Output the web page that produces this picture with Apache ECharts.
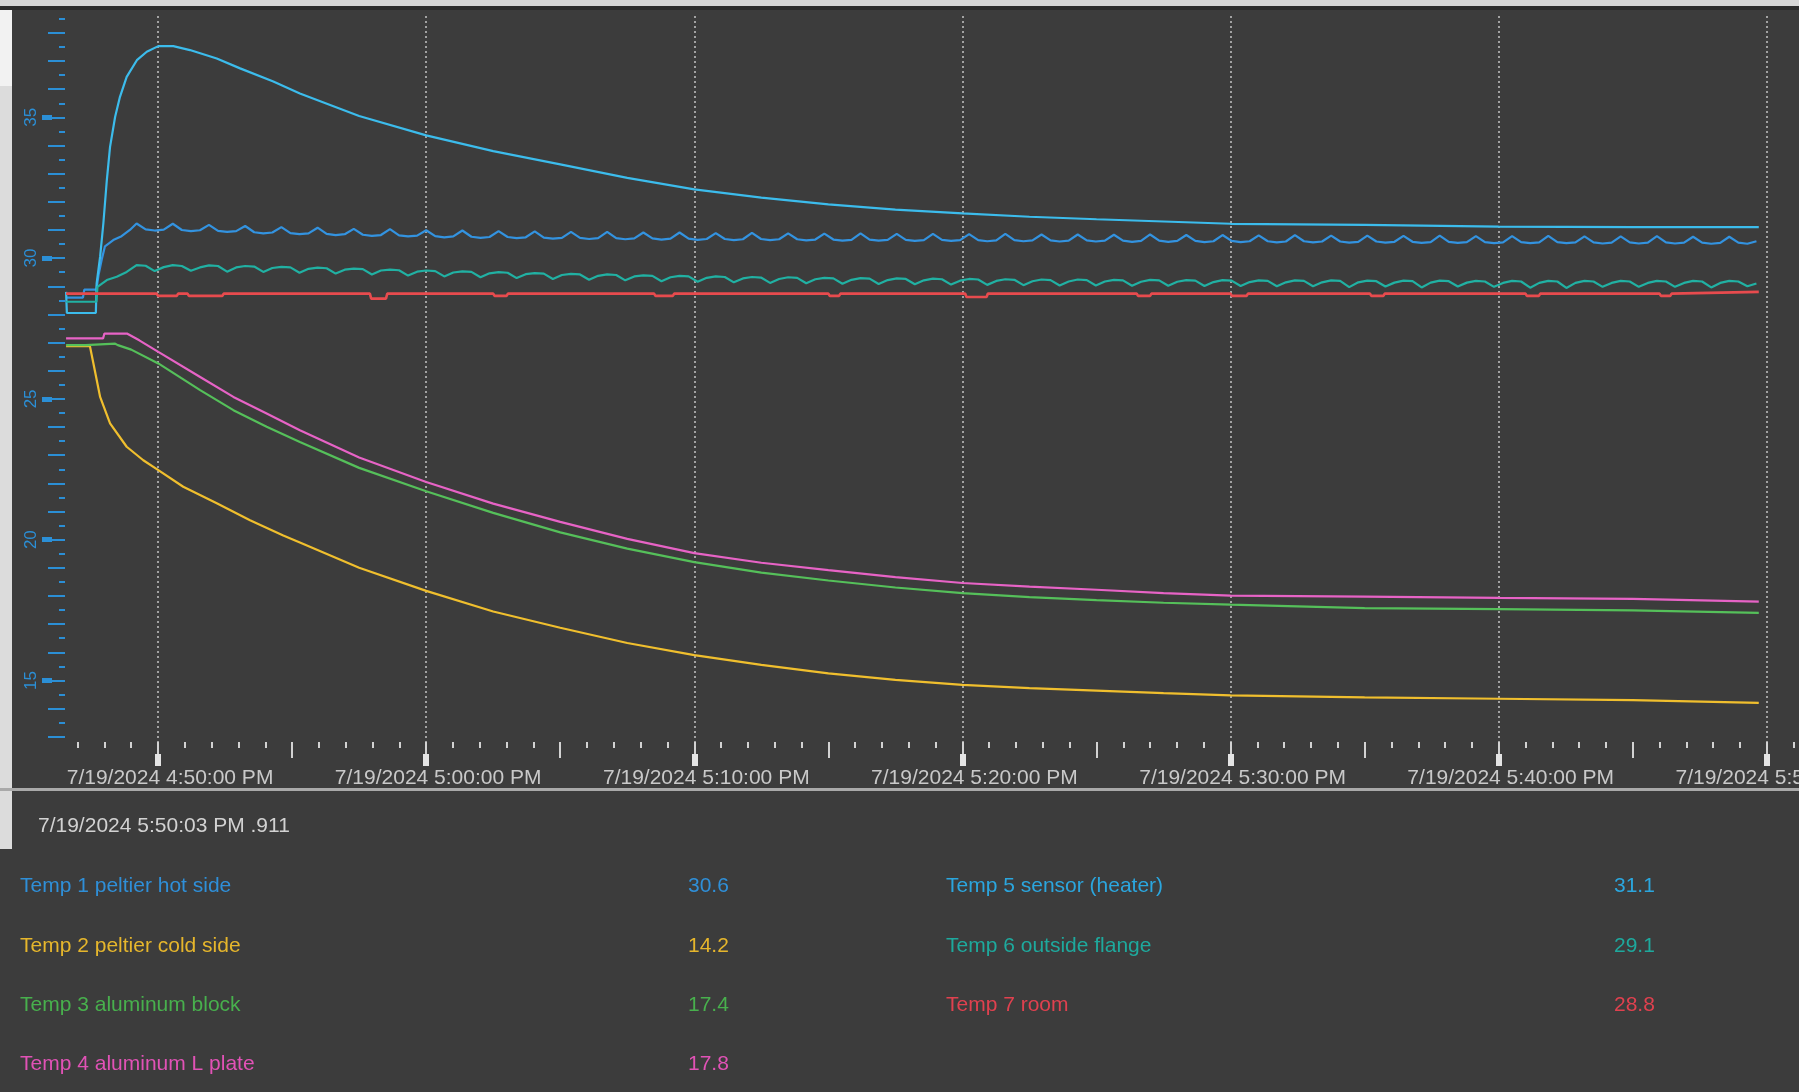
<!DOCTYPE html>
<html>
<head>
<meta charset="utf-8">
<script src="https://cdn.jsdelivr.net/npm/echarts@6/dist/echarts.min.js"></script>
<style>
  html, body { margin: 0; padding: 0; background: #3c3c3c; overflow: hidden; }
  #chart { width: 1799px; height: 1092px; }
</style>
</head>
<body>
<div id="chart"></div>
<script>
// Time is in minutes after midnight on 7/19/2024 (1010 = 4:50 PM).
const majorTimes = [1010, 1020, 1030, 1040, 1050, 1060, 1070];
const majorLabels = [
  '7/19/2024 4:50:00 PM', '7/19/2024 5:00:00 PM', '7/19/2024 5:10:00 PM',
  '7/19/2024 5:20:00 PM', '7/19/2024 5:30:00 PM', '7/19/2024 5:40:00 PM',
  '7/19/2024 5:50:00 PM'
];
const fiveMinuteTimes = [1015, 1025, 1035, 1045, 1055, 1065];
const yLabelValues = [15, 20, 25, 30, 35];
const readoutTime = '7/19/2024 5:50:03 PM .911';

const seriesNames = [
  'Temp 1 peltier hot side', 'Temp 2 peltier cold side', 'Temp 3 aluminum block',
  'Temp 4 aluminum L plate', 'Temp 5 sensor (heater)', 'Temp 6 outside flange', 'Temp 7 room'
];
const lineColors = ['#3393e0', '#f0bf2e', '#55c05a', '#e763c6', '#3cbcec', '#21b1a3', '#e84b4e'];
const textColors = ['#2f8fd8', '#e6b62c', '#48b04d', '#e152b6', '#2ba6de', '#1ea99d', '#e0414f'];

// Sampling grid of the two oscillating channels (peak / falling / trough / rising per cycle)
const WAVE_T0 = 1009.2;
const WAVE_DT = 0.3375;

// Temp 1 peltier hot side
const hotSideRise = [
  [1006.57, 28.6], [1007.2, 28.6], [1007.25, 28.88], [1007.7, 28.88], [1007.78, 29.4],
  [1007.9, 29.95], [1008.02, 30.42], [1008.33, 30.64], [1008.64, 30.78], [1008.95, 31.0]
];
const hotSideWave = [
  31.23, 31.02, 30.98, 31.01,  31.22, 31.00, 30.96, 30.99,  31.18, 30.97, 30.93, 30.96,
  31.14, 30.92, 30.88, 30.91,  31.10, 30.89, 30.85, 30.88,  31.08, 30.86, 30.82, 30.85,
  31.04, 30.83, 30.79, 30.82,  31.03, 30.81, 30.77, 30.80,  30.99, 30.78, 30.74, 30.77,
  30.98, 30.76, 30.72, 30.75,  30.96, 30.75, 30.71, 30.74,  30.95, 30.73, 30.69, 30.72,
  30.93, 30.72, 30.68, 30.71,  30.93, 30.71, 30.67, 30.70,  30.91, 30.70, 30.66, 30.69,
  30.91, 30.69, 30.65, 30.68,  30.89, 30.68, 30.64, 30.67,  30.90, 30.68, 30.64, 30.67,
  30.88, 30.67, 30.63, 30.66,  30.87, 30.66, 30.62, 30.65,  30.88, 30.66, 30.62, 30.65,
  30.86, 30.65, 30.61, 30.64,  30.86, 30.65, 30.61, 30.64,  30.85, 30.64, 30.60, 30.63,
  30.86, 30.64, 30.60, 30.63,  30.84, 30.63, 30.59, 30.62,  30.84, 30.63, 30.59, 30.62,
  30.83, 30.62, 30.58, 30.61,  30.84, 30.62, 30.58, 30.61,  30.82, 30.61, 30.57, 30.60,
  30.82, 30.61, 30.57, 30.60,  30.81, 30.60, 30.56, 30.59,  30.82, 30.60, 30.56, 30.59,
  30.80, 30.59, 30.55, 30.58,  30.80, 30.59, 30.55, 30.58,  30.79, 30.58, 30.54, 30.57,
  30.80, 30.58, 30.54, 30.57,  30.78, 30.57, 30.53, 30.56,  30.78, 30.57, 30.53, 30.56,
  30.79, 30.57, 30.53, 30.56,  30.77, 30.56, 30.52, 30.55,  30.77, 30.56, 30.52, 30.55,
  30.78, 30.56, 30.52, 30.55,  30.76, 30.55, 30.51, 30.54,  30.76, 30.55, 30.51, 30.60
];

// Temp 2 peltier cold side
const coldSide = [
  [1006.57, 26.87], [1007.46, 26.87], [1007.59, 26.26], [1007.84, 25.07], [1008.21, 24.13],
  [1008.83, 23.3], [1009.45, 22.82], [1010.01, 22.47], [1010.94, 21.88], [1012.19, 21.29],
  [1013.43, 20.69], [1014.67, 20.15], [1015.29, 19.9], [1017.5, 19.0], [1020, 18.18],
  [1022.5, 17.45], [1025, 16.87], [1027.5, 16.33], [1030, 15.9], [1032.5, 15.55],
  [1035, 15.25], [1037.5, 15.02], [1040, 14.84], [1042.5, 14.73], [1045, 14.64],
  [1047.5, 14.55], [1050, 14.47], [1055, 14.4], [1060, 14.35], [1065, 14.3], [1069.7, 14.2]
];

// Temp 3 aluminum block
const alBlock = [
  [1006.57, 26.91], [1007.3, 26.91], [1007.35, 26.96], [1008.4, 26.96], [1008.5, 26.91],
  [1009.0, 26.75], [1010.01, 26.26], [1011.57, 25.31], [1012.81, 24.6], [1014.05, 24.01],
  [1015.29, 23.47], [1017.5, 22.55], [1020, 21.72], [1022.5, 20.95], [1025, 20.26],
  [1027.5, 19.68], [1030, 19.2], [1032.5, 18.83], [1035, 18.55], [1037.5, 18.3],
  [1040, 18.1], [1042.5, 17.96], [1045, 17.85], [1047.5, 17.76], [1050, 17.69],
  [1055, 17.57], [1060, 17.53], [1065, 17.49], [1069.7, 17.4]
];

// Temp 4 aluminum L plate
const alPlate = [
  [1006.57, 27.15], [1007.95, 27.15], [1008.0, 27.32], [1008.84, 27.32], [1009.3, 27.08],
  [1010.01, 26.67], [1011.57, 25.78], [1012.81, 25.07], [1014.05, 24.48], [1015.29, 23.89],
  [1017.5, 22.92], [1020, 22.05], [1022.5, 21.28], [1025, 20.63], [1027.5, 20.03],
  [1030, 19.52], [1032.5, 19.18], [1035, 18.92], [1037.5, 18.67], [1040, 18.46],
  [1042.5, 18.33], [1045, 18.22], [1047.5, 18.1], [1050, 18.01], [1055, 17.98],
  [1060, 17.93], [1065, 17.9], [1069.7, 17.8]
];

// Temp 5 sensor (heater)
const heater = [
  [1006.57, 28.8], [1006.6, 28.05], [1007.68, 28.05], [1007.71, 29.1], [1007.84, 30.05],
  [1007.96, 31.23], [1008.09, 32.77], [1008.21, 33.95], [1008.4, 35.02], [1008.58, 35.73],
  [1008.83, 36.44], [1009.21, 37.03], [1009.58, 37.33], [1010.01, 37.53], [1010.57, 37.53],
  [1011.19, 37.39], [1012.19, 37.09], [1013.06, 36.74], [1014.3, 36.27], [1015.29, 35.85],
  [1017.5, 35.05], [1020, 34.36], [1022.5, 33.8], [1025, 33.33], [1027.5, 32.85],
  [1030, 32.44], [1032.5, 32.15], [1035, 31.91], [1037.5, 31.72], [1040, 31.59],
  [1042.5, 31.47], [1045, 31.38], [1047.5, 31.3], [1050, 31.22], [1055, 31.18],
  [1060, 31.12], [1065, 31.1], [1069.7, 31.1]
];

// Temp 6 outside flange
const flangeRise = [
  [1006.57, 28.45], [1007.7, 28.45], [1007.74, 28.98], [1008.09, 29.22], [1008.46, 29.34],
  [1008.83, 29.51]
];
const flangeWave = [
  29.75, 29.73, 29.54, 29.68,  29.75, 29.72, 29.55, 29.67,  29.74, 29.72, 29.52, 29.67,
  29.72, 29.70, 29.51, 29.65,  29.69, 29.67, 29.48, 29.62,  29.66, 29.64, 29.45, 29.59,
  29.63, 29.61, 29.42, 29.56,  29.59, 29.57, 29.38, 29.52,  29.56, 29.54, 29.35, 29.49,
  29.53, 29.51, 29.32, 29.46,  29.50, 29.48, 29.29, 29.43,  29.47, 29.45, 29.26, 29.40,
  29.44, 29.42, 29.23, 29.37,  29.42, 29.40, 29.21, 29.35,  29.39, 29.37, 29.18, 29.32,
  29.37, 29.35, 29.16, 29.30,  29.35, 29.33, 29.14, 29.28,  29.33, 29.31, 29.12, 29.26,
  29.32, 29.30, 29.11, 29.25,  29.30, 29.28, 29.09, 29.23,  29.29, 29.27, 29.08, 29.22,
  29.28, 29.26, 29.07, 29.21,  29.27, 29.25, 29.06, 29.20,  29.26, 29.24, 29.05, 29.19,
  29.25, 29.23, 29.04, 29.18,  29.24, 29.22, 29.03, 29.17,  29.24, 29.22, 29.03, 29.17,
  29.23, 29.21, 29.02, 29.16,  29.23, 29.21, 29.02, 29.16,  29.22, 29.20, 29.01, 29.15,
  29.22, 29.20, 29.01, 29.15,  29.21, 29.19, 29.00, 29.14,  29.21, 29.19, 29.00, 29.14,
  29.21, 29.19, 28.97, 29.14,  29.20, 29.18, 28.99, 29.13,  29.20, 29.18, 28.96, 29.13,
  29.20, 29.18, 28.99, 29.13,  29.19, 29.17, 28.98, 29.12,  29.19, 29.17, 28.95, 29.12,
  29.19, 29.17, 28.94, 29.12,  29.19, 29.17, 28.98, 29.12,  29.19, 29.17, 28.98, 29.12,
  29.19, 29.17, 28.98, 29.12,  29.19, 29.17, 28.96, 29.12,  29.19, 29.17, 29.00, 29.10
];

// Temp 7 room
const room = [
  [1006.57, 28.74], [1009.95, 28.74], [1010.0, 28.66], [1010.7, 28.66], [1010.75, 28.74],
  [1011.1, 28.74], [1011.15, 28.66], [1012.4, 28.66], [1012.45, 28.74], [1017.9, 28.74],
  [1017.95, 28.56], [1018.5, 28.56], [1018.55, 28.74], [1022.5, 28.74], [1022.55, 28.66],
  [1023.0, 28.66], [1023.05, 28.74], [1028.5, 28.74], [1028.55, 28.66], [1029.2, 28.66],
  [1029.25, 28.74], [1035.0, 28.74], [1035.05, 28.66], [1035.4, 28.66], [1035.45, 28.74],
  [1040.1, 28.74], [1040.15, 28.62], [1040.9, 28.62], [1040.95, 28.74], [1046.5, 28.74],
  [1046.55, 28.66], [1047.0, 28.66], [1047.05, 28.74], [1050.0, 28.74], [1050.05, 28.66],
  [1050.6, 28.66], [1050.65, 28.74], [1055.2, 28.74], [1055.25, 28.66], [1055.7, 28.66],
  [1055.75, 28.74], [1061.0, 28.74], [1061.05, 28.66], [1061.5, 28.66], [1061.55, 28.74],
  [1066.0, 28.74], [1066.05, 28.66], [1066.4, 28.66], [1066.45, 28.74], [1069.7, 28.8]
];

// ---- build ----
function withWave(rise, wave) {
  return rise.concat(wave.map((v, i) => [WAVE_T0 + i * WAVE_DT, v]));
}
const seriesData = [
  withWave(hotSideRise, hotSideWave),
  coldSide,
  alBlock,
  alPlate,
  heater,
  withWave(flangeRise, flangeWave),
  room
];

const X_MIN = 1006.53, X_MAX = 1071.2;
const Y_MIN = 12.6, Y_MAX = 38.6;

// one-minute ticks that are not on a 5-minute mark
const minuteTimes = [];
for (let m = Math.ceil(X_MIN); m <= X_MAX; m++) if (m % 5 !== 0) minuteTimes.push(m);
const degreeTicks = [];
for (let d = 13; d <= 38; d++) degreeTicks.push(d);
const halfDegreeTicks = degreeTicks.map(d => d + 0.5);

const FONT = '"Liberation Sans", Arial, sans-serif';
const tickGray = '#d2d2d2';
const axisBlue = '#2b8fd6';

function xAxisBase(extra) {
  return Object.assign({
    type: 'value', min: X_MIN, max: X_MAX, position: 'bottom', gridIndex: 0,
    axisLine: { show: false },
    axisLabel: { show: false },
    splitLine: { show: false }
  }, extra);
}
function yAxisBase(extra) {
  return Object.assign({
    type: 'value', min: Y_MIN, max: Y_MAX, position: 'left', gridIndex: 0,
    axisLine: { show: false },
    axisLabel: { show: false },
    splitLine: { show: false }
  }, extra);
}

const labelFor = v => {
  const i = majorTimes.findIndex(t => Math.abs(t - v) < 1e-6);
  return i >= 0 ? majorLabels[i] : '';
};

const xAxes = [
  // 10-minute marks: label, thin tick and dotted grid line
  xAxisBase({
    offset: 18,
    axisTick: { show: true, inside: true, length: 24, customValues: majorTimes,
      lineStyle: { color: tickGray, width: 2 } },
    axisLabel: { show: true, customValues: majorTimes, formatter: labelFor, margin: 2,
      color: '#c9c9c9', fontSize: 21, fontFamily: FONT, padding: [0, 0, 0, 24] },
    splitLine: { show: true, lineStyle: { color: '#c4c4c4', width: 1.5, type: [2, 3] } }
  }),
  // 10-minute marks: block at the foot of the tick
  xAxisBase({
    offset: 18,
    axisTick: { show: true, inside: true, length: 12, customValues: majorTimes,
      lineStyle: { color: '#e4e4e4', width: 6 } }
  }),
  // 5-minute marks
  xAxisBase({
    offset: 10,
    axisTick: { show: true, inside: true, length: 16, customValues: fiveMinuteTimes,
      lineStyle: { color: tickGray, width: 2 } }
  }),
  // 1-minute marks
  xAxisBase({
    offset: 0,
    axisTick: { show: true, inside: true, length: 6, customValues: minuteTimes,
      lineStyle: { color: tickGray, width: 2 } }
  })
];

const yAxes = [
  yAxisBase({
    axisTick: { show: true, length: 17, customValues: degreeTicks,
      lineStyle: { color: axisBlue, width: 2 } },
    axisLabel: { show: true, customValues: yLabelValues, rotate: 90, margin: 25,
      color: axisBlue, fontSize: 17, fontFamily: FONT }
  }),
  yAxisBase({
    axisTick: { show: true, length: 6, customValues: halfDegreeTicks,
      lineStyle: { color: axisBlue, width: 2 } }
  }),
  yAxisBase({
    offset: 13,
    axisTick: { show: true, length: 10, customValues: yLabelValues,
      lineStyle: { color: axisBlue, width: 5 } }
  })
];

const series = seriesNames.map((name, i) => ({
  name, type: 'line', xAxisIndex: 0, yAxisIndex: 0,
  data: seriesData[i], showSymbol: false, symbol: 'none',
  lineStyle: { color: lineColors[i], width: i === 6 ? 2.6 : 2.2 },
  itemStyle: { color: lineColors[i] },
  emphasis: { disabled: true }
}));

// Readout panel under the plot
const ROW_Y = [886, 946, 1005, 1064];
const readout = [];
seriesNames.forEach((name, i) => {
  const col = i < 4 ? 0 : 1;
  const row = i < 4 ? i : i - 4;
  const nameX = col === 0 ? 20 : 946;
  const valueX = col === 0 ? 688 : 1614;
  const last = seriesData[i][seriesData[i].length - 1][1];
  const common = { fill: textColors[i], font: '21px ' + FONT,
    textVerticalAlign: 'middle', verticalAlign: 'middle', textAlign: 'left', align: 'left' };
  readout.push({ type: 'text', silent: true,
    style: Object.assign({ x: nameX, y: ROW_Y[row], text: name }, common) });
  readout.push({ type: 'text', silent: true,
    style: Object.assign({ x: valueX, y: ROW_Y[row], text: last.toFixed(1) }, common) });
});

const frame = [
  { type: 'rect', silent: true, z: -10, shape: { x: 0, y: 0, width: 1799, height: 6 }, style: { fill: '#d6d6d6' } },
  { type: 'rect', silent: true, z: -10, shape: { x: 0, y: 6, width: 1799, height: 4 }, style: { fill: '#2c2c2c' } },
  { type: 'rect', silent: true, z: -10, shape: { x: 0, y: 10, width: 12, height: 76 }, style: { fill: '#f2f2f2' } },
  { type: 'rect', silent: true, z: -10, shape: { x: 0, y: 86, width: 12, height: 763 }, style: { fill: '#dcdcdc' } },
  { type: 'rect', silent: true, z: -10, shape: { x: 0, y: 788, width: 1799, height: 3 }, style: { fill: '#a9a9a9' } },
  { type: 'text', silent: true,
    style: { x: 38, y: 826, text: readoutTime, fill: '#d2d2d2', font: '21px ' + FONT,
      textVerticalAlign: 'middle', verticalAlign: 'middle', textAlign: 'left', align: 'left' } }
];

const chart = echarts.init(document.getElementById('chart'), null, { renderer: 'canvas' });
chart.setOption({
  backgroundColor: '#3c3c3c',
  animation: false,
  grid: { left: 65, right: 0, top: 16, bottom: 344, containLabel: false, outerBoundsMode: 'none' },
  xAxis: xAxes,
  yAxis: yAxes,
  series,
  graphic: frame.concat(readout)
});
</script>
</body>
</html>
